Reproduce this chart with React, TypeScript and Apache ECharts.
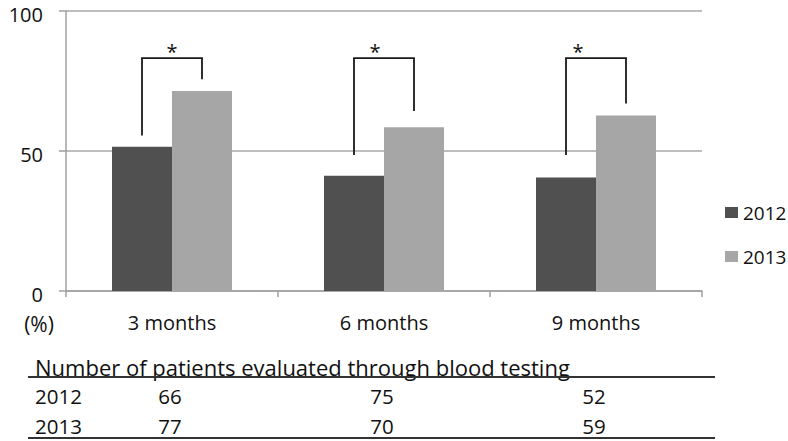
import React, { useEffect, useRef } from 'react';
import * as echarts from 'echarts';

const categories = ['3 months', '6 months', '9 months'];
const seriesNames = ['2012', '2013'];
const rate2012 = [51.5, 41.2, 40.5];
const rate2013 = [71.4, 58.5, 62.7];
const yMin = 0;
const yMax = 100;
const yInterval = 50;
const yUnit = '(%)';

// significance brackets (values on the % scale)
const bracketLeftEnd = [55.5, 48.6, 48.6];
const bracketRightEnd = [75.6, 64.3, 67.0];
const bracketTop = [83.2, 83.2, 83.2];
const bracketMark = '*';

const tableTitle = 'Number of patients evaluated through blood testing';
const tableYears = ['2012', '2013'];
const patients2012 = [66, 75, 52];
const patients2013 = [77, 70, 59];

const FONT = '"Open Sans", "DejaVu Sans", sans-serif';
const TXT = '#111';
const GRID_LEFT = 66;
const GRID_RIGHT_X = 702;
const HALF_BAR = 30;
const STAR_SHIFT = [0, -9, -18];

export default function App() {
  const ref = useRef<HTMLDivElement>(null);
  useEffect(() => {
    document.body.style.margin = '0';
    const chart = echarts.init(ref.current!, null, { renderer: 'svg' });
    const band = (GRID_RIGHT_X - GRID_LEFT) / categories.length;
    const colX = (i: number) => GRID_LEFT + (i + 0.5) * band - 2;
    const rowY = [396, 426];
    const tableRows = [patients2012, patients2013];

    const graphics: any[] = [
      {
        type: 'text', x: 39, y: 324,
        style: { text: yUnit, font: `21px ${FONT}`, fill: TXT, align: 'center', verticalAlign: 'middle' },
      },
      {
        type: 'text', x: 35, y: 367,
        style: { text: tableTitle, font: `22px ${FONT}`, fill: TXT, align: 'left', verticalAlign: 'middle' },
      },
      { type: 'line', shape: { x1: 28, y1: 377, x2: 715, y2: 377 }, style: { stroke: '#333', lineWidth: 2 } },
      { type: 'line', shape: { x1: 28, y1: 438, x2: 715, y2: 438 }, style: { stroke: '#333', lineWidth: 2 } },
    ];
    tableYears.forEach((yr, r) => {
      graphics.push({
        type: 'text', x: 35, y: rowY[r],
        style: { text: yr, font: `20.5px ${FONT}`, fill: TXT, align: 'left', verticalAlign: 'middle' },
      });
      tableRows[r].forEach((v, i) => {
        graphics.push({
          type: 'text', x: colX(i), y: rowY[r],
          style: { text: String(v), font: `20.5px ${FONT}`, fill: TXT, align: 'center', verticalAlign: 'middle' },
        });
      });
    });

    const option: any = {
      animation: false,
      backgroundColor: '#fff',
      grid: { left: GRID_LEFT, right: 788 - GRID_RIGHT_X, top: 11, bottom: 150, containLabel: false },
      legend: {
        data: seriesNames,
        orient: 'vertical',
        left: 725,
        top: 203,
        padding: 0,
        itemWidth: 13,
        itemHeight: 11,
        itemGap: 25,
        icon: 'rect',
        textStyle: { fontFamily: FONT, fontSize: 19, color: TXT },
      },
      xAxis: {
        type: 'category',
        data: categories,
        boundaryGap: true,
        axisLine: { show: true, lineStyle: { color: '#a0a0a0', width: 1.5 } },
        axisTick: { show: true, alignWithLabel: false, length: 6, lineStyle: { color: '#a0a0a0', width: 1.5 } },
        axisLabel: { margin: 21, fontFamily: FONT, fontSize: 20, color: TXT },
      },
      yAxis: {
        type: 'value',
        min: yMin,
        max: yMax,
        interval: yInterval,
        axisLine: { show: true, lineStyle: { color: '#a0a0a0', width: 1.5 } },
        axisTick: { show: true, length: 7, lineStyle: { color: '#a0a0a0', width: 1.5 } },
        splitLine: { show: true, lineStyle: { color: '#a8a8a8', width: 1.5 } },
        axisLabel: {
          margin: 23, fontFamily: FONT, fontSize: 20, color: TXT,
          verticalAlign: 'top', lineHeight: 7,
        },
      },
      series: [
        {
          name: seriesNames[0], type: 'bar', data: rate2012, barWidth: 60, barGap: '0%',
          itemStyle: { color: '#505050' },
        },
        {
          name: seriesNames[1], type: 'bar', data: rate2013, barWidth: 60, barGap: '0%',
          itemStyle: { color: '#a6a6a6' },
        },
        {
          type: 'custom',
          z: 5,
          data: categories.map((_, i) => [i, bracketLeftEnd[i], bracketRightEnd[i], bracketTop[i]]),
          renderItem: (params: any, api: any) => {
            const i = api.value(0);
            const pl = api.coord([i, api.value(1)]);
            const pr = api.coord([i, api.value(2)]);
            const pt = api.coord([i, api.value(3)]);
            const xl = pl[0] - HALF_BAR;
            const xr = pl[0] + HALF_BAR;
            return {
              type: 'group',
              children: [
                {
                  type: 'polyline',
                  shape: { points: [[xl, pl[1]], [xl, pt[1]], [xr, pt[1]], [xr, pr[1]]] },
                  style: { stroke: '#1a1a1a', lineWidth: 1.8, fill: null },
                },
                {
                  type: 'text',
                  x: pl[0] + STAR_SHIFT[i],
                  y: pt[1] - 7,
                  style: { text: bracketMark, font: `20px ${FONT}`, fill: TXT, align: 'center', verticalAlign: 'middle' },
                },
              ],
            };
          },
        },
      ],
      graphic: graphics,
    };
    chart.setOption(option);
    return () => chart.dispose();
  }, []);
  return <div ref={ref} style={{ width: 788, height: 441 }} />;
}
